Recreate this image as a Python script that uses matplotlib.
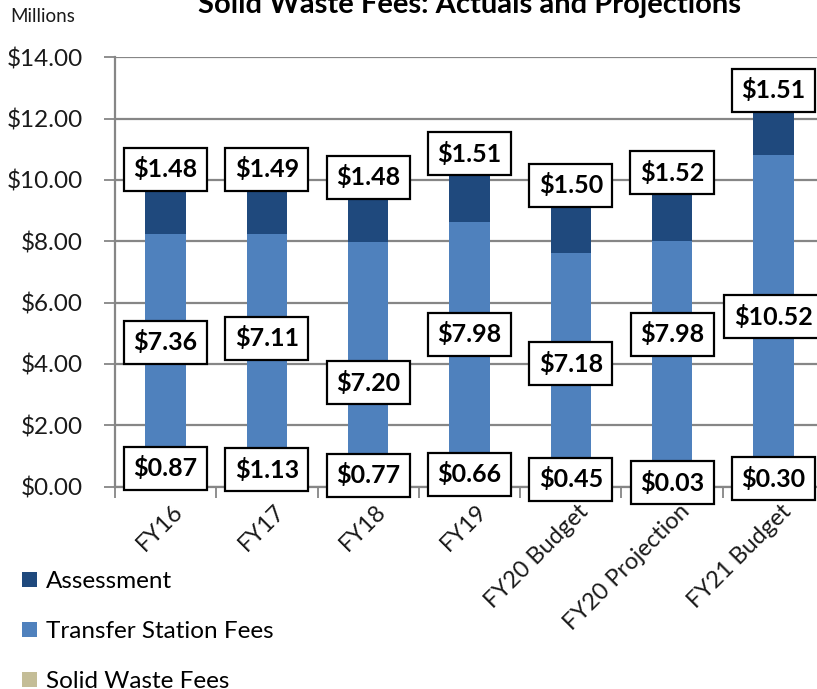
import matplotlib
matplotlib.use("Agg")
import matplotlib.pyplot as plt
from matplotlib.patches import Patch
import matplotlib.transforms as mtransforms
import numpy as np

categories = ["FY16", "FY17", "FY18", "FY19", "FY20 Budget", "FY20 Projection", "FY21 Budget"]
solid_waste = [0.87, 1.13, 0.77, 0.66, 0.45, 0.03, 0.30]
transfer = [7.36, 7.11, 7.20, 7.98, 7.18, 7.98, 10.52]
assessment = [1.48, 1.49, 1.48, 1.51, 1.50, 1.52, 1.51]
series_names = ["Assessment", "Transfer Station Fees", "Solid Waste Fees"]
yticks = [0, 2, 4, 6, 8, 10, 12, 14]

# label centre positions (data units), as placed in the reference
label_y_solid = [0.59, 0.55, 0.37, 0.40, 0.24, 0.12, 0.25]
label_y_transfer = [4.70, 4.84, 3.39, 4.97, 4.01, 4.97, 5.54]
label_y_assess = [10.35, 10.35, 10.08, 10.86, 9.83, 10.24, 12.93]

c_assess = "#1F497D"
c_transfer = "#4F81BD"
c_solid = "#C4BD97"
grid_c = "#868686"

FONT = "Lato"
plt.rcParams["font.family"] = [FONT, "DejaVu Sans"]

W, H = 817, 689
fig = plt.figure(figsize=(W / 100, H / 100), dpi=100)
left_px, right_px, top_px, bot_px = 115, 824, 57.3, 486.5
ax = fig.add_axes([left_px / W, 1 - bot_px / H, (right_px - left_px) / W, (bot_px - top_px) / H])

x = np.arange(len(categories))
sw = np.array(solid_waste)
tr = np.array(transfer)
asm = np.array(assessment)
bw = 0.4
ax.bar(x, sw, bw, color=c_solid, zorder=3)
ax.bar(x, tr, bw, bottom=sw, color=c_transfer, zorder=3)
ax.bar(x, asm, bw, bottom=sw + tr, color=c_assess, zorder=3)

ax.set_xlim(-0.5, len(categories) - 0.5)
ax.set_ylim(0, 14)
ax.set_yticks(yticks)
ax.set_yticklabels(["${:.2f}".format(v) for v in yticks], fontsize=17.5, color="#1a1a1a")
ax.yaxis.grid(True, color=grid_c, linewidth=1.6, zorder=0)
ax.set_axisbelow(True)
ax.tick_params(axis="y", length=8, width=1.3, color=grid_c, pad=15)

for s in ["top", "right"]:
    ax.spines[s].set_visible(False)
ax.spines["left"].set_color(grid_c)
ax.spines["left"].set_linewidth(1.6)
ax.spines["bottom"].set_color(grid_c)
ax.spines["bottom"].set_linewidth(1.6)

# category boundary ticks on x axis
ax.set_xticks(np.arange(len(categories) + 1) - 0.5, minor=False)
ax.set_xticklabels([])
ax.tick_params(axis="x", length=8, width=1.3, color=grid_c)
ax.set_xticks(x, minor=True)
ax.set_xticklabels(categories, minor=True, rotation=45, ha="right",
                   rotation_mode="anchor", fontsize=17, color="#1a1a1a")
ax.tick_params(axis="x", which="minor", length=0, pad=10)
offset = mtransforms.ScaledTranslation(7 / 100, 0, fig.dpi_scale_trans)
for lbl in ax.xaxis.get_minorticklabels():
    lbl.set_transform(lbl.get_transform() + offset)

box = dict(boxstyle="square,pad=0.38", facecolor="white", edgecolor="black", linewidth=1.6)
for i in range(len(categories)):
    for val, yy in ((solid_waste[i], label_y_solid[i]),
                    (transfer[i], label_y_transfer[i]),
                    (assessment[i], label_y_assess[i])):
        ax.text(x[i], yy, "${:.2f}".format(val), ha="center", va="center",
                fontsize=18, fontweight="bold", color="black", bbox=box, zorder=5)

fig.text(470 / W, 1 - 13 / H, "Solid Waste Fees: Actuals and Projections", ha="center",
         va="baseline", fontsize=21, fontweight="bold", color="black")
fig.text(10 / W, 1 - 17 / H, "Millions", ha="left", va="center", fontsize=13.5, color="#1a1a1a")

handles = [Patch(facecolor=c_assess), Patch(facecolor=c_transfer), Patch(facecolor=c_solid)]
fig.legend(handles, series_names, loc="upper left", bbox_to_anchor=(22 / W, 1 - 571 / H),
           frameon=False, fontsize=17.5, handlelength=0.6, handleheight=0.6,
           handletextpad=0.4, labelspacing=1.2, borderaxespad=0, borderpad=0)

fig.savefig("out.png", dpi=100)
